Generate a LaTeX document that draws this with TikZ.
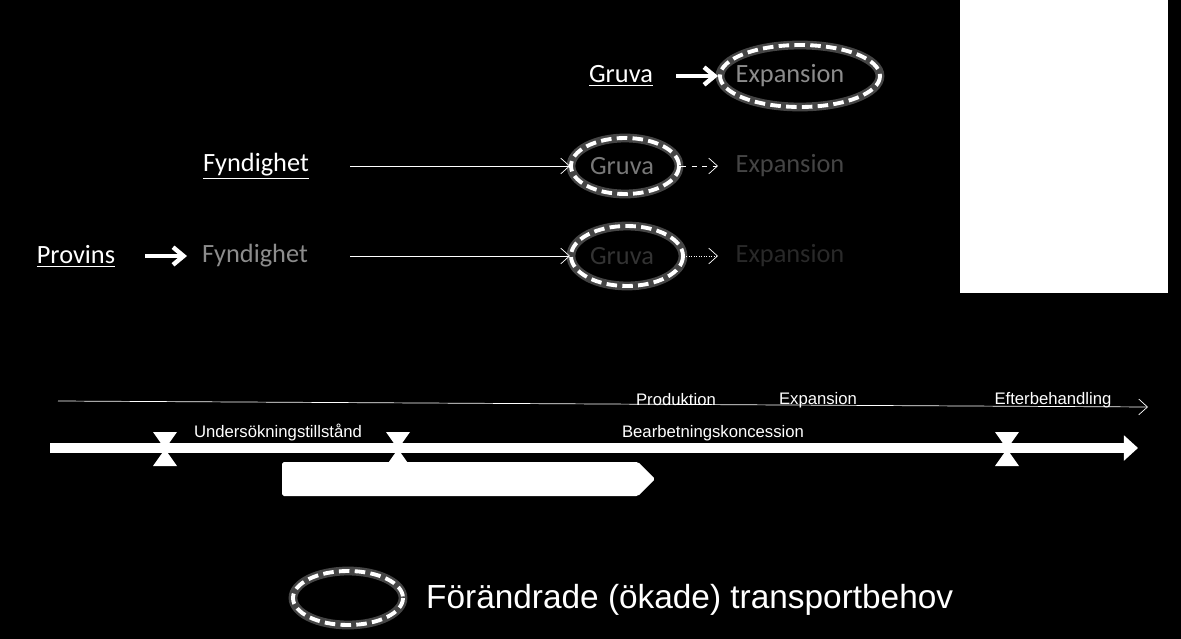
\documentclass[tikz,border=0pt]{standalone}
\usepackage{fontspec}
\setmainfont{Carlito}
\newfontfamily\arialfont{Liberation Sans}
\usetikzlibrary{arrows.meta,positioning}
\tikzset{
  lbl/.style={font=\fontsize{15pt}{17pt}\selectfont, inner sep=1pt},
  small/.style={font=\arialfont\fontsize{9.5pt}{11pt}\selectfont, text=white, inner sep=1pt},
  ring/.style={draw=white, line width=2.2pt, dash pattern=on 6pt off 3pt},
  glow/.style={draw=white!45!black, line width=5pt, opacity=.6},
}
\begin{document}
\begin{tikzpicture}[x=0.02cm,y=-0.02cm]
    \fill[black] (0,0) rectangle (1181,639);
    \useasboundingbox (0,0) rectangle (1181,639);
    \fill[white] (960,0) rectangle (1168,293);
    % top row
    \node[lbl,text=white] (gruvaA) at (621,76) {\underline{Gruva}};
    \foreach \gw in {glow,ring}
      \draw[\gw] (800,76) ellipse (80 and 31);
    \node[lbl,text=white!55!black] (expA) at (790,76) {Expansion};
    \draw[-{Straight Barb[length=6pt,width=10pt]},white,line width=2.5pt] (676,76) -- (718,76);
    % middle row
    \node[lbl,text=white] (fyndB) at (256,166) {\underline{Fyndighet}};
    \foreach \gw in {glow,ring}
      \draw[\gw] (625,166) ellipse (54 and 28);
    \node[lbl,text=white!47!black] (gruvaB) at (622,166) {Gruva};
    \node[lbl,text=white!27!black] (expB) at (790,166) {Expansion};
    \draw[-{Straight Barb[length=5pt,width=9pt]},white,thin] (350,166) -- (570,166);
    \draw[-{Straight Barb[length=5pt,width=9pt]},white,thin,dashed] (681,166) -- (718,166);
    % bottom row
    \node[lbl,text=white] (provC) at (76,256) {\underline{Provins}};
    \node[lbl,text=white!55!black] (fyndC) at (255,256) {Fyndighet};
    \foreach \gw in {glow,ring}
      \draw[\gw] (627,256) ellipse (56 and 30);
    \node[lbl,text=white!20!black] (gruvaC) at (622,256) {Gruva};
    \node[lbl,text=white!16!black] (expC) at (790,256) {Expansion};
    \draw[-{Straight Barb[length=6pt,width=10pt]},white,line width=2.5pt] (145,256) -- (187,256);
    \draw[-{Straight Barb[length=5pt,width=9pt]},white,thin] (350,256) -- (570,256);
    \draw[-{Straight Barb[length=5pt,width=9pt]},white,thin,densely dotted] (684,256) -- (718,256);
    % timeline
    \draw[-{Straight Barb[length=5pt,width=9pt]},white,thin] (58,401) -- (1148,407);
    \node[small] (prod) at (676,400) {Produktion};
    \node[small] (expT) at (818,400) {Expansion};
    \node[small] (efter) at (1053,400) {Efterbehandling};
    \draw[-{Triangle[length=8pt,width=14pt]},white,line width=6pt] (50,448) -- (1138,448);
    \fill[white,rounded corners=1pt] (282,462) -- (638,462) -- (655,479) -- (638,496) -- (282,496) -- cycle;
    \foreach \mx in {165,398,1007}
      \fill[white] (\mx-12,432) -- (\mx+12,432) -- (\mx,449) -- (\mx+12,466) -- (\mx-12,466) -- (\mx,449) -- cycle;
    \node[small] (unders) at (278,433) {Undersökningstillstånd};
    \node[small] (bearb) at (713,433) {Bearbetningskoncession};
    % legend
    \foreach \gw in {glow,ring}
      \draw[\gw] (348,598) ellipse (55 and 27);
    \node[font=\arialfont\fontsize{19pt}{22pt}\selectfont,text=white,anchor=west] (legend) at (420,600) {Förändrade (ökade) transportbehov};
\end{tikzpicture}
\end{document}
